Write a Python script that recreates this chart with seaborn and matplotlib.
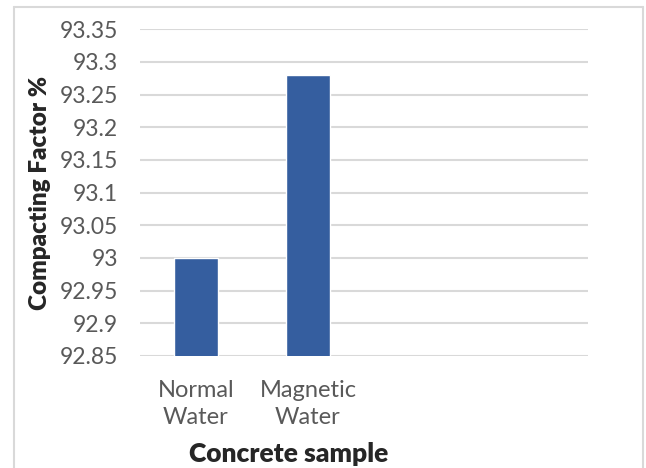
import matplotlib
matplotlib.use("Agg")
import matplotlib.pyplot as plt
import seaborn as sns
import pandas as pd
from matplotlib.lines import Line2D

categories = ["Normal Water", "Magnetic Water"]
tick_labels = ["Normal\nWater", "Magnetic\nWater", "", ""]
slot_order = ["Normal Water", "Magnetic Water", "slot3", "slot4"]
values = [93.00, 93.28]
y_ticks = [92.85, 92.9, 92.95, 93.0, 93.05, 93.1, 93.15, 93.2, 93.25, 93.3, 93.35]
y_tick_labels = ["92.85", "92.9", "92.95", "93", "93.05", "93.1", "93.15", "93.2", "93.25", "93.3", "93.35"]

sns.set_style("white")
plt.rcParams['font.family'] = ['Lato', 'DejaVu Sans']

W, H = 646, 468
fig = plt.figure(figsize=(W / 100, H / 100), dpi=100)
ax = fig.add_axes([140 / W, 1 - 356 / H, 448 / W, 326.7 / H])

df = pd.DataFrame({"sample": categories, "value": values})
sns.barplot(data=df, x="sample", y="value", order=slot_order, color="#355E9F",
            width=0.39, ax=ax, saturation=1, zorder=3)

ax.set_ylim(92.85, 93.35)
ax.set_yticks(y_ticks)
ax.set_yticklabels(y_tick_labels)
ax.set_xticks(range(len(slot_order)))
ax.set_xticklabels(tick_labels, linespacing=1.35)
ax.set_xlim(-0.5, 3.5)
ax.yaxis.grid(True, color="#d9d9d9", linewidth=1.5, zorder=0)
ax.xaxis.grid(False)
for s in ax.spines.values():
    s.set_visible(False)
ax.tick_params(axis="y", length=0, pad=16, labelsize=16.5, labelcolor="#595959")
ax.tick_params(axis="x", length=0, pad=17, labelsize=17, labelcolor="#595959")
ax.set_xlabel("")
ax.set_ylabel("")

fig.text(289 / W, 1 - 462 / H, "Concrete sample", ha="center", va="baseline",
         fontsize=19, fontweight="heavy", color="#262626")
fig.text(40 / W, 1 - 192.5 / H, "Compacting Factor %", ha="center", va="center",
         rotation=90, fontsize=17.5, fontweight="heavy", color="#262626")

# chart border
bc = "#d9d9d9"
fig.add_artist(Line2D([14 / W, 14 / W], [0, 1 - 7 / H], transform=fig.transFigure, color=bc, lw=1.5))
fig.add_artist(Line2D([14 / W, 643 / W], [1 - 7 / H, 1 - 7 / H], transform=fig.transFigure, color=bc, lw=1.5))
fig.add_artist(Line2D([643 / W, 643 / W], [0, 1 - 7 / H], transform=fig.transFigure, color=bc, lw=1.5))

fig.savefig("out.png", dpi=100)
